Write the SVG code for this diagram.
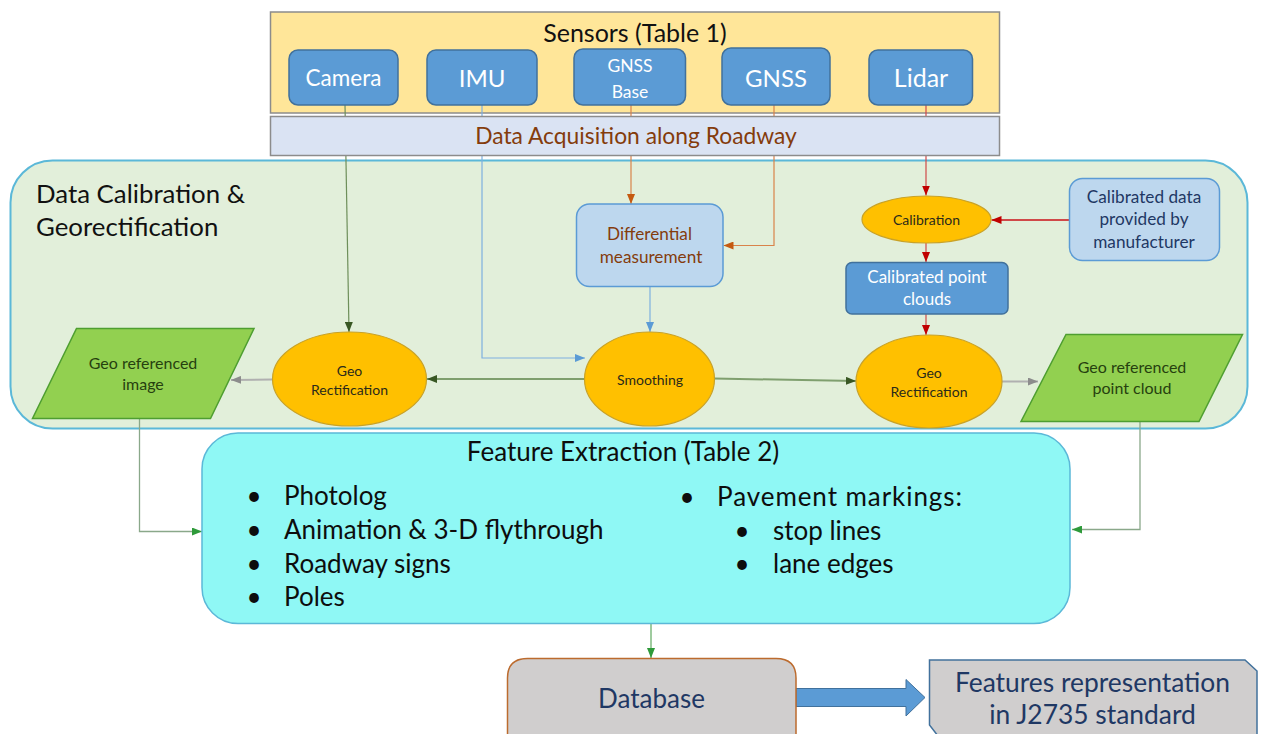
<svg xmlns="http://www.w3.org/2000/svg" width="1266" height="734" viewBox="0 0 1266 734">
<style>
text{font-family:Lato,"Open Sans","Liberation Sans",sans-serif;}
.c{text-anchor:middle;}
.sens{fill:#5B9BD5;stroke:#41719C;stroke-width:1.5;}
.wt{fill:#FFFFFF;}
.ell{fill:#FFC000;stroke:#C9A227;stroke-width:1.2;}
.et{fill:#2A2A1A;font-size:14px;}
.para{fill:#92D050;stroke:#4E9E30;stroke-width:1.5;}
.pt{fill:#26400F;font-size:16px;}
.lb{fill:#BDD7EE;stroke:#5B9BD5;stroke-width:1.5;}
.navy{fill:#1F3864;}
.ln{fill:none;}
.bt{fill:#0D0D0D;font-size:26px;}
</style>
<defs>
<marker id="aGreenD" viewBox="0 0 10 8" refX="10" refY="4" markerWidth="10" markerHeight="8" markerUnits="userSpaceOnUse" orient="auto"><path d="M0,0 L10,4 L0,8 z" fill="#385723"/></marker>
<marker id="aBlue" viewBox="0 0 10 8" refX="10" refY="4" markerWidth="10" markerHeight="8" markerUnits="userSpaceOnUse" orient="auto"><path d="M0,0 L10,4 L0,8 z" fill="#5B9BD5"/></marker>
<marker id="aOrange" viewBox="0 0 10 8" refX="10" refY="4" markerWidth="10" markerHeight="8" markerUnits="userSpaceOnUse" orient="auto"><path d="M0,0 L10,4 L0,8 z" fill="#C55A11"/></marker>
<marker id="aRed" viewBox="0 0 10 8" refX="10" refY="4" markerWidth="10" markerHeight="8" markerUnits="userSpaceOnUse" orient="auto"><path d="M0,0 L10,4 L0,8 z" fill="#C00000"/></marker>
<marker id="aGray" viewBox="0 0 10 8" refX="10" refY="4" markerWidth="10" markerHeight="8" markerUnits="userSpaceOnUse" orient="auto"><path d="M0,0 L10,4 L0,8 z" fill="#8C8C8C"/></marker>
<marker id="aGreen" viewBox="0 0 10 8" refX="10" refY="4" markerWidth="10" markerHeight="8" markerUnits="userSpaceOnUse" orient="auto"><path d="M0,0 L10,4 L0,8 z" fill="#2E9A3A"/></marker>
</defs>

<rect width="1266" height="734" fill="#FFFFFF"/>

<g id="sensors-panel">
<rect x="270.5" y="12" width="729" height="101" fill="#FFE699" stroke="#8C8C8C" stroke-width="1.5"/>
<text x="635" y="42" class="c" font-size="25" fill="#111111">Sensors (Table 1)</text>
</g>

<g id="calibration-panel">
<rect x="10.5" y="160.5" width="1237" height="268" rx="42" fill="#E2EFDA" stroke="#5BB8D8" stroke-width="2"/>
<text x="36" y="203" font-size="25.8" fill="#111111">Data Calibration &amp;</text>
<text x="36" y="236" font-size="25.8" fill="#111111">Georectification</text>
</g>

<g id="connectors">
<path d="M345,105 L349,332" class="ln" stroke="#6E8F5A" stroke-width="1.2" marker-end="url(#aGreenD)"/>
<path d="M482,105 L482,358 L585,358" class="ln" stroke="#7EB0E0" stroke-width="1.2" marker-end="url(#aBlue)"/>
<path d="M631,105 L631,204" class="ln" stroke="#D9834A" stroke-width="1.2" marker-end="url(#aOrange)"/>
<path d="M774,105 L774,245.5 L723.5,245.5" class="ln" stroke="#D9834A" stroke-width="1.2" marker-end="url(#aOrange)"/>
<path d="M926,105 L926,195.5" class="ln" stroke="#D04848" stroke-width="1.2" marker-end="url(#aRed)"/>
<path d="M1069,220 L991.5,220" class="ln" stroke="#D04848" stroke-width="2" marker-end="url(#aRed)"/>
<path d="M926,243 L926,262" class="ln" stroke="#D04848" stroke-width="1.2" marker-end="url(#aRed)"/>
<path d="M926,314 L926,335" class="ln" stroke="#D04848" stroke-width="1.2" marker-end="url(#aRed)"/>
<path d="M650,287 L650,332" class="ln" stroke="#7EB0E0" stroke-width="1.2" marker-end="url(#aBlue)"/>
<path d="M585,379 L427,379" class="ln" stroke="#7F9F6E" stroke-width="2" marker-end="url(#aGreenD)"/>
<path d="M714,378.5 L856,381" class="ln" stroke="#7F9F6E" stroke-width="2" marker-end="url(#aGreenD)"/>
<path d="M272,379.5 L231,380" class="ln" stroke="#B0B0B0" stroke-width="2" marker-end="url(#aGray)"/>
<path d="M1002,381.5 L1038,381.5" class="ln" stroke="#B0B0B0" stroke-width="2" marker-end="url(#aGray)"/>
<path d="M139.5,418.5 L139.5,531.5 L202,531.5" class="ln" stroke="#8AA88A" stroke-width="1.3" marker-end="url(#aGreen)"/>
<path d="M1140,421.5 L1140,529.5 L1072,529.5" class="ln" stroke="#8AA88A" stroke-width="1.3" marker-end="url(#aGreen)"/>
<path d="M651,623.5 L651,658" class="ln" stroke="#5FA85F" stroke-width="1.2" marker-end="url(#aGreen)"/>
<path d="M796,688.5 L906,688.5 L906,679.5 L925,697.5 L906,716 L906,706.5 L796,706.5 Z" fill="#5B9BD5" stroke="#41719C" stroke-width="1"/>
</g>

<g id="camera">
<rect x="289" y="50" width="109" height="55" rx="9" class="sens"/>
<text x="343.5" y="86" class="c wt" font-size="22.5">Camera</text>
</g>
<g id="imu">
<rect x="427" y="50" width="110" height="55" rx="9" class="sens"/>
<text x="482" y="87" class="c wt" font-size="24">IMU</text>
</g>
<g id="gnss-base">
<rect x="574" y="49" width="111.5" height="56" rx="9" class="sens"/>
<text x="630" y="72" class="c wt" font-size="17.5">GNSS</text>
<text x="630" y="98" class="c wt" font-size="17.5">Base</text>
</g>
<g id="gnss">
<rect x="722" y="48" width="108" height="57" rx="9" class="sens"/>
<text x="776" y="87" class="c wt" font-size="24">GNSS</text>
</g>
<g id="lidar">
<rect x="869" y="50" width="103.5" height="55" rx="9" class="sens"/>
<text x="921" y="87" class="c wt" font-size="25">Lidar</text>
</g>

<g id="data-acquisition">
<rect x="270.5" y="116.5" width="729" height="39" fill="#DAE3F3" stroke="#8C8C8C" stroke-width="1.5"/>
<text x="636" y="144" class="c" font-size="22.8" fill="#843C0C">Data Acquisition along Roadway</text>
</g>

<g id="differential">
<rect x="576.5" y="204" width="146.5" height="82.5" rx="13" class="lb"/>
<text x="649.5" y="240" class="c" font-size="17.2" fill="#843C0C">Differential</text>
<text x="651" y="262.5" class="c" font-size="17.2" fill="#843C0C">measurement</text>
</g>

<g id="calibration">
<ellipse cx="926.5" cy="219.5" rx="64.5" ry="23.5" class="ell"/>
<text x="926.5" y="225" class="c et">Calibration</text>
</g>

<g id="calibrated-data">
<rect x="1069.5" y="178.5" width="150" height="82" rx="13" class="lb"/>
<text x="1144" y="203" class="c navy" font-size="17.2">Calibrated data</text>
<text x="1144" y="225" class="c navy" font-size="17.2">provided by</text>
<text x="1144" y="247.5" class="c navy" font-size="17.2">manufacturer</text>
</g>

<g id="calibrated-point-clouds">
<rect x="846" y="262.5" width="162" height="51.5" rx="6" class="sens"/>
<text x="927" y="283" class="c wt" font-size="17">Calibrated point</text>
<text x="927" y="305" class="c wt" font-size="17">clouds</text>
</g>

<g id="geo-rect-left">
<ellipse cx="349.5" cy="379" rx="77" ry="47" class="ell"/>
<text x="349.5" y="376" class="c et">Geo</text>
<text x="349.5" y="394.5" class="c et">Rectification</text>
</g>

<g id="smoothing">
<ellipse cx="649.5" cy="379" rx="65" ry="47" class="ell"/>
<text x="650" y="385" class="c et" font-size="15">Smoothing</text>
</g>

<g id="geo-rect-right">
<ellipse cx="929" cy="381.5" rx="73" ry="46.5" class="ell"/>
<text x="929" y="378" class="c et">Geo</text>
<text x="929" y="397" class="c et">Rectification</text>
</g>

<g id="geo-referenced-image">
<polygon points="76.5,328.5 254,328.5 210.5,418.5 32.5,418.5" class="para"/>
<text x="143" y="368.5" class="c pt">Geo referenced</text>
<text x="143" y="389.5" class="c pt">image</text>
</g>

<g id="geo-referenced-point-cloud">
<polygon points="1066,334.5 1242.5,334.5 1199,421.5 1021,421.5" class="para"/>
<text x="1132" y="373" class="c pt">Geo referenced</text>
<text x="1132" y="393.5" class="c pt">point cloud</text>
</g>

<g id="feature-extraction">
<rect x="202" y="433" width="868" height="190.5" rx="36" fill="#8FF8F5" stroke="#5BB8D8" stroke-width="1.5"/>
<text x="623" y="461" class="c" font-size="26" fill="#0D0D0D">Feature Extraction (Table 2)</text>
<text x="254" y="505" class="c bt">•</text>
<text x="284" y="505" class="bt">Photolog</text>
<text x="254" y="539" class="c bt">•</text>
<text x="284" y="539" class="bt">Animation &amp; 3-D flythrough</text>
<text x="254" y="573" class="c bt">•</text>
<text x="284" y="573" class="bt">Roadway signs</text>
<text x="254" y="606" class="c bt">•</text>
<text x="284" y="606" class="bt">Poles</text>
<text x="687" y="506" class="c bt">•</text>
<text x="717" y="506" class="bt" textLength="245">Pavement markings:</text>
<text x="742" y="540" class="c bt">•</text>
<text x="773" y="540" class="bt">stop lines</text>
<text x="742" y="573" class="c bt">•</text>
<text x="773" y="573" class="bt">lane edges</text>
</g>

<g id="database">
<path d="M507.5,745 L507.5,678 Q507.5,658.5 527.5,658.5 L776,658.5 Q796,658.5 796,678 L796,745 Z" fill="#D0CECE" stroke="#BC6B2E" stroke-width="1.5"/>
<text x="651.5" y="708" class="c navy" font-size="26">Database</text>
</g>

<g id="features-representation">
<path d="M929.5,660 L1245,660 L1257,671 L1257,745 L945,745 L929.5,725 Z" fill="#D0CECE" stroke="#41719C" stroke-width="1.5"/>
<text x="1092.5" y="692" class="c navy" font-size="26.4">Features representation</text>
<text x="1092.5" y="724" class="c navy" font-size="26.4">in J2735 standard</text>
</g>
</svg>
